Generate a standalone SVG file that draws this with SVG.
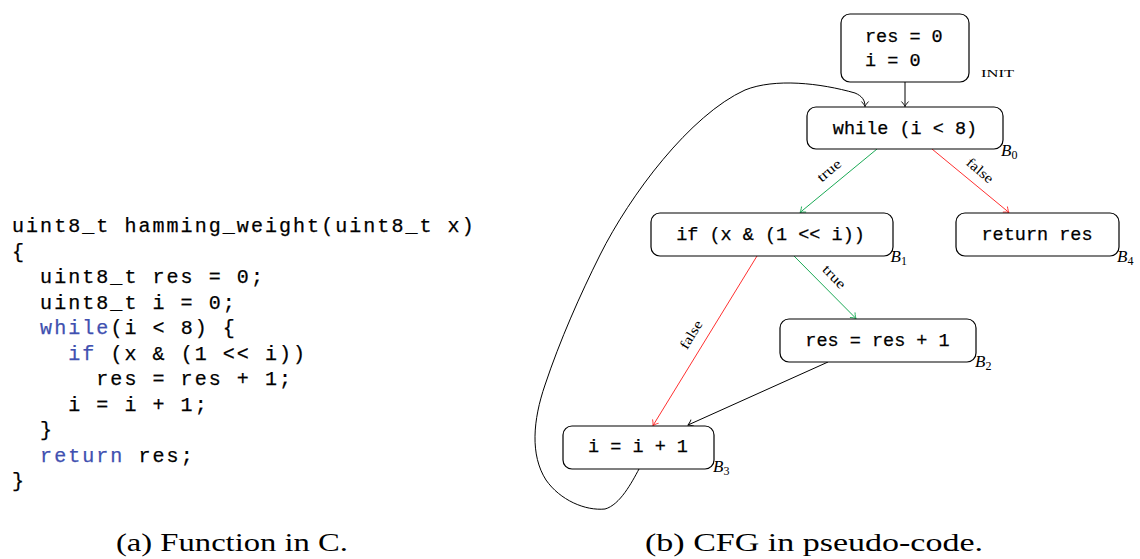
<svg xmlns="http://www.w3.org/2000/svg" width="1140" height="559" viewBox="0 0 1140 559">
<style>
.code{font-family:"Liberation Mono",monospace;font-size:20px;letter-spacing:2.05px;fill:#000;stroke:#000;stroke-width:0.25;white-space:pre}
.kw{fill:#4050b0;stroke:#4050b0}
.box{fill:#fff;stroke:#000;stroke-width:1.2}
.nt{font-family:"Liberation Mono",monospace;font-size:18.5px;fill:#000;stroke:#000;stroke-width:0.25;white-space:pre}
.bl{font-family:"Liberation Serif",serif;font-style:italic;font-size:17px;fill:#000}
.sub{font-style:normal;font-size:12px}
.el{font-family:"Liberation Serif",serif;font-size:14px;text-anchor:middle}
.cap{font-family:"Liberation Serif",serif;font-size:25px;fill:#000}
.e{fill:none;stroke-width:1}
.k{stroke:#000}
.g{stroke:#1aaa55}
.r{stroke:#ff3030}
</style>
<defs>
<marker id="ak" viewBox="-6 -5 7 10" refX="0" refY="0" markerWidth="7" markerHeight="10" markerUnits="userSpaceOnUse" orient="auto"><path d="M-5,-3.6 C-3,-1.6 -0.8,-0.4 0,0 C-0.8,0.4 -3,1.6 -5,3.6" fill="none" stroke="#000" stroke-width="0.9"/></marker>
<marker id="ag" viewBox="-6 -5 7 10" refX="0" refY="0" markerWidth="7" markerHeight="10" markerUnits="userSpaceOnUse" orient="auto"><path d="M-5,-3.6 C-3,-1.6 -0.8,-0.4 0,0 C-0.8,0.4 -3,1.6 -5,3.6" fill="none" stroke="#1aaa55" stroke-width="0.9"/></marker>
<marker id="ar" viewBox="-6 -5 7 10" refX="0" refY="0" markerWidth="7" markerHeight="10" markerUnits="userSpaceOnUse" orient="auto"><path d="M-5,-3.6 C-3,-1.6 -0.8,-0.4 0,0 C-0.8,0.4 -3,1.6 -5,3.6" fill="none" stroke="#ff3030" stroke-width="0.9"/></marker>
</defs>

<g id="code">
<text class="code" x="12" y="232">uint8_t hamming_weight(uint8_t x)</text>
<text class="code" x="12" y="257.5">{</text>
<text class="code" x="12" y="283">  uint8_t res = 0;</text>
<text class="code" x="12" y="308.5">  uint8_t i = 0;</text>
<text class="code" x="12" y="334">  <tspan class="kw">while</tspan>(i &lt; 8) {</text>
<text class="code" x="12" y="359.5">    <tspan class="kw">if</tspan> (x &amp; (1 &lt;&lt; i))</text>
<text class="code" x="12" y="385">      res = res + 1;</text>
<text class="code" x="12" y="410.5">    i = i + 1;</text>
<text class="code" x="12" y="436">  }</text>
<text class="code" x="12" y="461.5">  <tspan class="kw">return</tspan> res;</text>
<text class="code" x="12" y="487">}</text>
</g>

<g id="connectors">
<path class="e k" d="M905,82 L905,106.5" marker-end="url(#ak)"/>
<path class="e g" d="M877,149 L800,212.5" marker-end="url(#ag)"/>
<path class="e r" d="M932,149 L1009,212.5" marker-end="url(#ar)"/>
<path class="e g" d="M794,256 L856,318.5" marker-end="url(#ag)"/>
<path class="e r" d="M757,256 L653,425.5" marker-end="url(#ar)"/>
<path class="e k" d="M828,362 L688,425" marker-end="url(#ak)"/>
<path class="e k" d="M639,469 C632,482 620,505 605,509 C585,511 560,500 546,480 C530,455 533,420 545,385 C560,340 580,295 600,255 C630,195 690,115 745,90 C775,78 820,83 855,93 C862,96 865,100 865,106.5" marker-end="url(#ak)"/>
<text class="el" transform="translate(832,174) rotate(-40)" textLength="27" lengthAdjust="spacingAndGlyphs">true</text>
<text class="el" transform="translate(977,174) rotate(40)" textLength="31" lengthAdjust="spacingAndGlyphs">false</text>
<text class="el" transform="translate(831,280) rotate(45.5)" textLength="27" lengthAdjust="spacingAndGlyphs">true</text>
<text class="el" transform="translate(695,337) rotate(-58.4)" textLength="31" lengthAdjust="spacingAndGlyphs">false</text>
</g>

<g id="init">
<rect class="box" x="841" y="14" width="128" height="68" rx="9"/>
<text class="nt" x="865" y="41.5">res = 0</text>
<text class="nt" x="865" y="66">i = 0</text>
<text x="981" y="77" font-family="Liberation Serif, serif" font-size="11" textLength="33" lengthAdjust="spacingAndGlyphs">INIT</text>
</g>

<g id="b0">
<rect class="box" x="807" y="107" width="196" height="42" rx="9"/>
<text class="nt" x="905" y="133.5" text-anchor="middle">while (i &lt; 8)</text>
<text class="bl" x="1001" y="156">B<tspan class="sub" dy="3">0</tspan></text>
</g>

<g id="b1">
<rect class="box" x="651" y="213" width="242" height="43" rx="9"/>
<text class="nt" x="770.5" y="240" text-anchor="middle">if (x &amp; (1 &lt;&lt; i))</text>
<text class="bl" x="890.5" y="262">B<tspan class="sub" dy="3">1</tspan></text>
</g>

<g id="b4">
<rect class="box" x="956" y="213" width="163" height="43" rx="9"/>
<text class="nt" x="1037" y="240" text-anchor="middle">return res</text>
<text class="bl" x="1117" y="262">B<tspan class="sub" dy="3">4</tspan></text>
</g>

<g id="b2">
<rect class="box" x="780" y="319" width="196" height="43" rx="9"/>
<text class="nt" x="877.5" y="346" text-anchor="middle">res = res + 1</text>
<text class="bl" x="975" y="367">B<tspan class="sub" dy="3">2</tspan></text>
</g>

<g id="b3">
<rect class="box" x="563" y="426" width="151" height="43" rx="9"/>
<text class="nt" x="638" y="452" text-anchor="middle">i = i + 1</text>
<text class="bl" x="713" y="472">B<tspan class="sub" dy="3">3</tspan></text>
</g>

<g id="captions">
<text class="cap" x="116" y="551" textLength="232" lengthAdjust="spacingAndGlyphs">(a) Function in C.</text>
<text class="cap" x="645" y="551" textLength="338" lengthAdjust="spacingAndGlyphs">(b) CFG in pseudo-code.</text>
</g>
</svg>
